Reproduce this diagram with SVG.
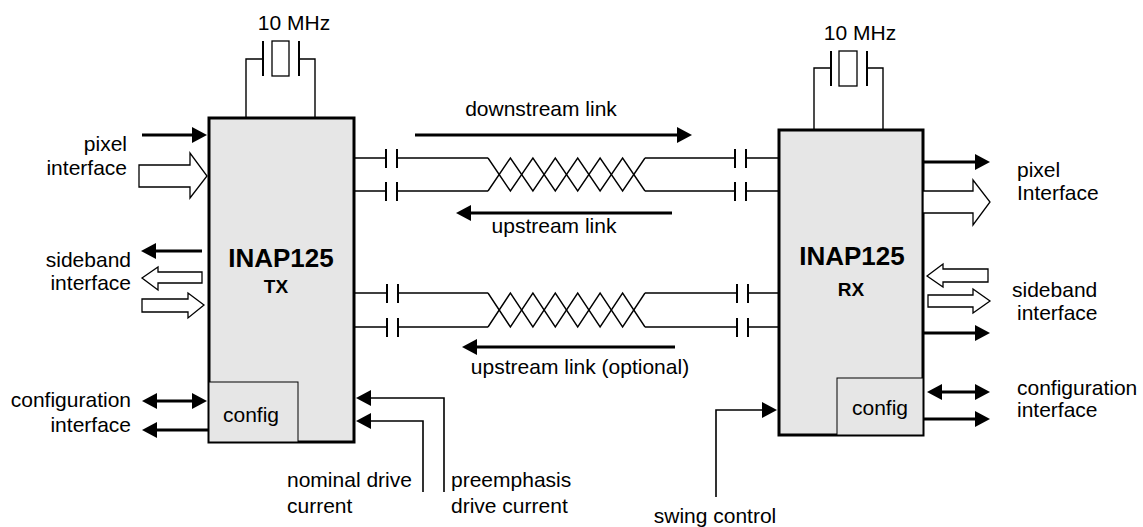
<svg xmlns="http://www.w3.org/2000/svg" width="1143" height="527" viewBox="0 0 1143 527">
<style>
text{font-family:"Liberation Sans",Arial,sans-serif;font-size:21px;fill:#000}
.b{font-weight:bold}
.box{fill:#e6e6e6;stroke:#000;stroke-width:3}
.cfg{fill:#e6e6e6;stroke:#000;stroke-width:1}
.w{fill:none;stroke:#000;stroke-width:1.4}
.cap{fill:none;stroke:#000;stroke-width:2}
.thick{fill:none;stroke:#000;stroke-width:3}
.thin{fill:none;stroke:#000;stroke-width:1.6}
.hol{fill:#fff;stroke:#000;stroke-width:1.3}
.xt{fill:#fff;stroke:#000;stroke-width:1.3}
</style>
<defs>
<marker id="ah" markerUnits="userSpaceOnUse" markerWidth="15" markerHeight="16" refX="11" refY="8" orient="auto-start-reverse">
<path d="M0,0 L15,8 L0,16 z" fill="#000"/>
</marker>
</defs>

<g id="tx">
<rect class="box" x="209" y="118" width="145" height="324"/>
<rect class="cfg" x="209" y="382" width="89" height="60"/>
<text x="223" y="422">config</text>
<text class="b" x="281" y="267" text-anchor="middle" style="font-size:26px">INAP125</text>
<text class="b" x="276" y="293" text-anchor="middle" style="font-size:19px">TX</text>
</g>

<g id="tx-crystal">
<path class="w" d="M246,118 V59 H263 M315,118 V59 H299"/>
<path class="cap" d="M263,41 V76 M299,41 V76"/>
<rect class="xt" x="272" y="41" width="17" height="35"/>
<text x="294" y="30" text-anchor="middle">10 MHz</text>
</g>

<g id="rx">
<rect class="box" x="779" y="130" width="144" height="305"/>
<rect class="cfg" x="837" y="378" width="86" height="57"/>
<text x="852" y="415">config</text>
<text class="b" x="852" y="265" text-anchor="middle" style="font-size:26px">INAP125</text>
<text class="b" x="851" y="296" text-anchor="middle" style="font-size:19px">RX</text>
</g>

<g id="rx-crystal">
<path class="w" d="M814,130 V68 H831 M883,130 V68 H867"/>
<path class="cap" d="M831,51 V86 M867,51 V86"/>
<rect class="xt" x="839" y="51" width="18" height="35"/>
<text x="860" y="40" text-anchor="middle">10 MHz</text>
</g>

<g id="link1">
<path class="w" d="M354,158 H386 M397,158 H488 M354,191 H386 M397,191 H488"/>
<path class="cap" d="M386,149 V168 M397,149 V168 M386,182 V201 M397,182 V201"/>
<path class="w" d="M488,158 L510.4,191 L532.9,158 L555.3,191 L577.7,158 L600.1,191 L622.6,158 L645,191"/>
<path class="w" d="M488,191 L510.4,158 L532.9,191 L555.3,158 L577.7,191 L600.1,158 L622.6,191 L645,158"/>
<path class="w" d="M645,158 H735 M746,158 H779 M645,191 H735 M746,191 H779"/>
<path class="cap" d="M735,149 V168 M746,149 V168 M735,182 V201 M746,182 V201"/>
</g>

<g id="link2">
<path class="w" d="M354,293 H387 M398,293 H488 M354,327 H387 M398,327 H488"/>
<path class="cap" d="M387,284 V303 M398,284 V303 M387,318 V337 M398,318 V337"/>
<path class="w" d="M488,293 L510.4,327 L532.9,293 L555.3,327 L577.7,293 L600.1,327 L622.6,293 L645,327"/>
<path class="w" d="M488,327 L510.4,293 L532.9,327 L555.3,293 L577.7,327 L600.1,293 L622.6,327 L645,293"/>
<path class="w" d="M645,293 H737 M748,293 H779 M645,327 H737 M748,327 H779"/>
<path class="cap" d="M737,284 V303 M748,284 V303 M737,318 V337 M748,318 V337"/>
</g>

<g id="connectors">
<path class="thick" d="M415,135 H688" marker-end="url(#ah)"/>
<path class="thick" d="M672,213 H460" marker-end="url(#ah)"/>
<path class="thick" d="M675,347 H466" marker-end="url(#ah)"/>
<path class="thick" d="M142,135 H203" marker-end="url(#ah)"/>
<path class="thick" d="M202,251 H145" marker-end="url(#ah)"/>
<path class="thick" d="M146,401 H203" marker-start="url(#ah)" marker-end="url(#ah)"/>
<path class="thick" d="M209,430 H146" marker-end="url(#ah)"/>
<path class="thin" d="M444,492 V398 H360" marker-end="url(#ah)"/>
<path class="thin" d="M423,492 V421 H360" marker-end="url(#ah)"/>
<path class="thick" d="M923,162 H986" marker-end="url(#ah)"/>
<path class="thick" d="M923,333 H986" marker-end="url(#ah)"/>
<path class="thick" d="M931,392 H986" marker-start="url(#ah)" marker-end="url(#ah)"/>
<path class="thick" d="M923,419 H986" marker-end="url(#ah)"/>
<path class="thin" d="M716,497 V410 H773" marker-end="url(#ah)"/>
<polygon class="hol" points="139,165 190,165 190,153 207,176 190,198 190,187 139,187"/>
<polygon class="hol" points="142,278 158,267 158,272 202,272 202,283 158,283 158,290"/>
<polygon class="hol" points="142,299 188,299 188,293 204,305 188,318 188,312 142,312"/>
<polygon class="hol" points="923,191 973,191 973,180 990,202 973,225 973,213 923,213"/>
<polygon class="hol" points="927,276 943,264 943,269 988,269 988,282 943,282 943,287"/>
<polygon class="hol" points="928,295 973,295 973,289 990,301 973,313 973,307 928,307"/>
</g>

<g id="labels">
<text x="541" y="116" text-anchor="middle">downstream link</text>
<text x="554" y="233" text-anchor="middle">upstream link</text>
<text x="580" y="374" text-anchor="middle">upstream link (optional)</text>
<text x="127" y="151" text-anchor="end">pixel</text>
<text x="127" y="175" text-anchor="end">interface</text>
<text x="131" y="267" text-anchor="end">sideband</text>
<text x="131" y="290" text-anchor="end">interface</text>
<text x="131" y="407" text-anchor="end">configuration</text>
<text x="131" y="432" text-anchor="end">interface</text>
<text x="287" y="487">nominal drive</text>
<text x="287" y="513">current</text>
<text x="451" y="487">preemphasis</text>
<text x="451" y="513">drive current</text>
<text x="1017" y="177">pixel</text>
<text x="1017" y="200">Interface</text>
<text x="1012" y="297">sideband</text>
<text x="1017" y="320">interface</text>
<text x="1017" y="395">configuration</text>
<text x="1017" y="417">interface</text>
<text x="715" y="523" text-anchor="middle">swing control</text>
</g>
</svg>
